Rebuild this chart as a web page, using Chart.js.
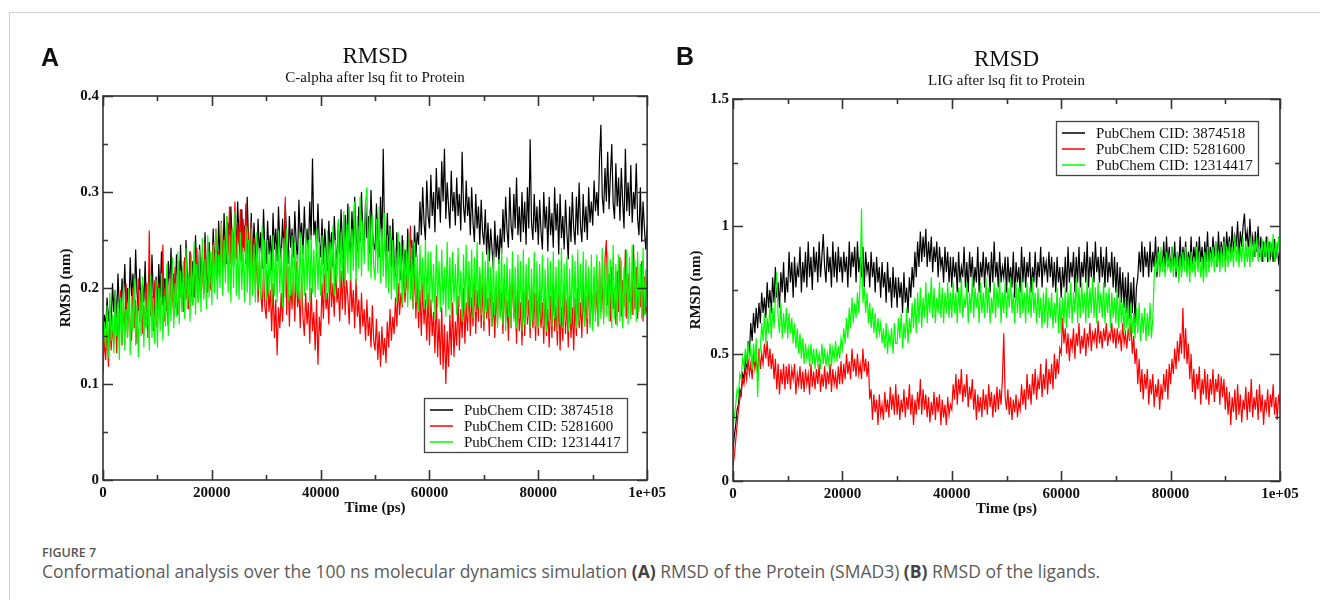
<!DOCTYPE html>
<html>
<head>
<meta charset="utf-8">
<script src="https://cdn.jsdelivr.net/npm/chart.js@4.4.1/dist/chart.umd.min.js"></script>
<style>
  body { margin: 0; width: 1320px; height: 600px; background: #fff; position: relative; overflow: hidden; }
  .frame { position: absolute; left: 9px; top: 12px; width: 1320px; height: 600px; border-left: 1.5px solid #d2d2d2; border-top: 1.5px solid #d2d2d2; }
  .panel { position: absolute; top: 0; }
  .tag { position: absolute; font: bold 25px "Liberation Sans", Arial, sans-serif; color: #111; }
  .fig { position: absolute; left: 42px; top: 544px; font: 600 12.5px "Open Sans", sans-serif; color: #555; }
  .cap { position: absolute; left: 42px; top: 559px; font: 17.5px "Open Sans", sans-serif; color: #5a5a5a; white-space: nowrap; }
  .cap b { font-weight: 700; color: #444; }
</style>
</head>
<body>
<div class="frame"></div>
<canvas id="chartA" class="panel" style="left:0" width="670" height="530"></canvas>
<canvas id="chartB" class="panel" style="left:650px" width="670" height="530"></canvas>
<div class="tag" style="left:41px; top:43px">A</div>
<div class="tag" style="left:676px; top:42px">B</div>
<div class="fig">FIGURE 7</div>
<div class="cap">Conformational analysis over the 100 ns molecular dynamics simulation <b>(A)</b> RMSD of the Protein (SMAD3) <b>(B)</b> RMSD of the ligands.</div>

<script>
// legend names, same for both panels
const seriesNames = ['PubChem CID: 3874518', 'PubChem CID: 5281600', 'PubChem CID: 12314417'];
const seriesColors = ['#000000', '#ff0000', '#00ff00'];

// sampling times (ps), read every 250 ps
const timePs = [
  0, 250, 500, 750, 1000, 1250, 1500, 1750, 2000, 2250, 2500, 2750, 3000, 3250, 3500, 3750, 4000, 4250, 4500, 4750,
  5000, 5250, 5500, 5750, 6000, 6250, 6500, 6750, 7000, 7250, 7500, 7750, 8000, 8250, 8500, 8750, 9000, 9250, 9500, 9750,
  10000, 10250, 10500, 10750, 11000, 11250, 11500, 11750, 12000, 12250, 12500, 12750, 13000, 13250, 13500, 13750, 14000, 14250, 14500, 14750,
  15000, 15250, 15500, 15750, 16000, 16250, 16500, 16750, 17000, 17250, 17500, 17750, 18000, 18250, 18500, 18750, 19000, 19250, 19500, 19750,
  20000, 20250, 20500, 20750, 21000, 21250, 21500, 21750, 22000, 22250, 22500, 22750, 23000, 23250, 23500, 23750, 24000, 24250, 24500, 24750,
  25000, 25250, 25500, 25750, 26000, 26250, 26500, 26750, 27000, 27250, 27500, 27750, 28000, 28250, 28500, 28750, 29000, 29250, 29500, 29750,
  30000, 30250, 30500, 30750, 31000, 31250, 31500, 31750, 32000, 32250, 32500, 32750, 33000, 33250, 33500, 33750, 34000, 34250, 34500, 34750,
  35000, 35250, 35500, 35750, 36000, 36250, 36500, 36750, 37000, 37250, 37500, 37750, 38000, 38250, 38500, 38750, 39000, 39250, 39500, 39750,
  40000, 40250, 40500, 40750, 41000, 41250, 41500, 41750, 42000, 42250, 42500, 42750, 43000, 43250, 43500, 43750, 44000, 44250, 44500, 44750,
  45000, 45250, 45500, 45750, 46000, 46250, 46500, 46750, 47000, 47250, 47500, 47750, 48000, 48250, 48500, 48750, 49000, 49250, 49500, 49750,
  50000, 50250, 50500, 50750, 51000, 51250, 51500, 51750, 52000, 52250, 52500, 52750, 53000, 53250, 53500, 53750, 54000, 54250, 54500, 54750,
  55000, 55250, 55500, 55750, 56000, 56250, 56500, 56750, 57000, 57250, 57500, 57750, 58000, 58250, 58500, 58750, 59000, 59250, 59500, 59750,
  60000, 60250, 60500, 60750, 61000, 61250, 61500, 61750, 62000, 62250, 62500, 62750, 63000, 63250, 63500, 63750, 64000, 64250, 64500, 64750,
  65000, 65250, 65500, 65750, 66000, 66250, 66500, 66750, 67000, 67250, 67500, 67750, 68000, 68250, 68500, 68750, 69000, 69250, 69500, 69750,
  70000, 70250, 70500, 70750, 71000, 71250, 71500, 71750, 72000, 72250, 72500, 72750, 73000, 73250, 73500, 73750, 74000, 74250, 74500, 74750,
  75000, 75250, 75500, 75750, 76000, 76250, 76500, 76750, 77000, 77250, 77500, 77750, 78000, 78250, 78500, 78750, 79000, 79250, 79500, 79750,
  80000, 80250, 80500, 80750, 81000, 81250, 81500, 81750, 82000, 82250, 82500, 82750, 83000, 83250, 83500, 83750, 84000, 84250, 84500, 84750,
  85000, 85250, 85500, 85750, 86000, 86250, 86500, 86750, 87000, 87250, 87500, 87750, 88000, 88250, 88500, 88750, 89000, 89250, 89500, 89750,
  90000, 90250, 90500, 90750, 91000, 91250, 91500, 91750, 92000, 92250, 92500, 92750, 93000, 93250, 93500, 93750, 94000, 94250, 94500, 94750,
  95000, 95250, 95500, 95750, 96000, 96250, 96500, 96750, 97000, 97250, 97500, 97750, 98000, 98250, 98500, 98750, 99000, 99250, 99500, 99750,
  100000
];

// panel A: C-alpha RMSD (nm)
const protBlack = [
  0.150, 0.172, 0.158, 0.190, 0.165, 0.182, 0.160, 0.205, 0.175, 0.198, 0.168, 0.215, 0.180, 0.172, 0.210, 0.185, 0.225, 0.178, 0.200, 0.170,
  0.232, 0.190, 0.215, 0.182, 0.240, 0.195, 0.176, 0.220, 0.168, 0.205, 0.185, 0.228, 0.172, 0.196, 0.218, 0.178, 0.235, 0.190, 0.170, 0.212,
  0.178, 0.225, 0.190, 0.238, 0.182, 0.210, 0.195, 0.176, 0.228, 0.200, 0.242, 0.188, 0.215, 0.180, 0.235, 0.205, 0.192, 0.245, 0.198, 0.222,
  0.185, 0.250, 0.210, 0.195, 0.238, 0.202, 0.228, 0.190, 0.255, 0.212, 0.198, 0.245, 0.205, 0.232, 0.196, 0.258, 0.215, 0.200, 0.248, 0.210,
  0.215, 0.262, 0.225, 0.248, 0.208, 0.270, 0.232, 0.255, 0.220, 0.278, 0.240, 0.225, 0.268, 0.230, 0.285, 0.245, 0.222, 0.275, 0.238, 0.290,
  0.250, 0.228, 0.282, 0.242, 0.265, 0.225, 0.295, 0.248, 0.232, 0.278, 0.222, 0.268, 0.240, 0.218, 0.272, 0.235, 0.258, 0.220, 0.282, 0.238,
  0.225, 0.270, 0.235, 0.255, 0.218, 0.278, 0.240, 0.262, 0.228, 0.285, 0.245, 0.230, 0.272, 0.238, 0.288, 0.250, 0.225, 0.275, 0.242, 0.262,
  0.232, 0.280, 0.248, 0.228, 0.292, 0.252, 0.268, 0.235, 0.285, 0.245, 0.262, 0.238, 0.290, 0.250, 0.335, 0.255, 0.270, 0.240, 0.288, 0.248,
  0.232, 0.272, 0.225, 0.262, 0.240, 0.218, 0.270, 0.235, 0.258, 0.222, 0.275, 0.242, 0.228, 0.268, 0.236, 0.282, 0.245, 0.230, 0.276, 0.240,
  0.288, 0.250, 0.235, 0.280, 0.244, 0.295, 0.255, 0.238, 0.285, 0.248, 0.300, 0.258, 0.240, 0.290, 0.252, 0.275, 0.236, 0.302, 0.260, 0.245,
  0.240, 0.288, 0.252, 0.232, 0.295, 0.245, 0.345, 0.250, 0.228, 0.278, 0.238, 0.265, 0.222, 0.272, 0.230, 0.212, 0.258, 0.225, 0.248, 0.208,
  0.255, 0.218, 0.240, 0.205, 0.262, 0.228, 0.215, 0.250, 0.210, 0.265, 0.232, 0.258, 0.245, 0.290, 0.255, 0.305, 0.268, 0.250, 0.312, 0.275,
  0.262, 0.318, 0.275, 0.300, 0.258, 0.325, 0.282, 0.305, 0.268, 0.332, 0.290, 0.345, 0.272, 0.310, 0.285, 0.262, 0.322, 0.280, 0.300, 0.265,
  0.315, 0.275, 0.298, 0.260, 0.342, 0.285, 0.268, 0.312, 0.275, 0.295, 0.255, 0.305, 0.268, 0.248, 0.298, 0.262, 0.285, 0.245, 0.292, 0.258,
  0.245, 0.282, 0.235, 0.268, 0.228, 0.262, 0.240, 0.218, 0.270, 0.232, 0.255, 0.225, 0.262, 0.235, 0.282, 0.248, 0.295, 0.260, 0.242, 0.305,
  0.265, 0.250, 0.298, 0.262, 0.315, 0.255, 0.285, 0.248, 0.300, 0.258, 0.290, 0.245, 0.305, 0.262, 0.355, 0.268, 0.250, 0.298, 0.258, 0.285,
  0.245, 0.292, 0.258, 0.240, 0.300, 0.262, 0.285, 0.238, 0.295, 0.255, 0.278, 0.242, 0.305, 0.260, 0.288, 0.235, 0.298, 0.252, 0.275, 0.240,
  0.292, 0.258, 0.230, 0.285, 0.248, 0.300, 0.262, 0.245, 0.295, 0.255, 0.310, 0.265, 0.248, 0.298, 0.258, 0.285, 0.250, 0.305, 0.268, 0.290,
  0.265, 0.312, 0.280, 0.300, 0.275, 0.335, 0.370, 0.295, 0.278, 0.325, 0.290, 0.342, 0.282, 0.318, 0.350, 0.288, 0.272, 0.330, 0.285, 0.315,
  0.270, 0.325, 0.290, 0.262, 0.345, 0.280, 0.310, 0.275, 0.328, 0.268, 0.300, 0.282, 0.330, 0.272, 0.255, 0.305, 0.248, 0.290, 0.262, 0.240,
  0.265
];
const protRed = [
  0.110, 0.148, 0.125, 0.162, 0.118, 0.170, 0.135, 0.158, 0.142, 0.185, 0.132, 0.175, 0.150, 0.198, 0.140, 0.182, 0.155, 0.205, 0.148, 0.190,
  0.160, 0.145, 0.200, 0.158, 0.188, 0.142, 0.210, 0.165, 0.195, 0.152, 0.182, 0.160, 0.205, 0.148, 0.260, 0.170, 0.192, 0.155, 0.208, 0.165,
  0.158, 0.205, 0.170, 0.192, 0.245, 0.165, 0.210, 0.178, 0.160, 0.215, 0.182, 0.198, 0.168, 0.222, 0.185, 0.172, 0.228, 0.190, 0.205, 0.175,
  0.232, 0.188, 0.210, 0.178, 0.238, 0.195, 0.182, 0.225, 0.192, 0.242, 0.185, 0.212, 0.198, 0.235, 0.190, 0.248, 0.205, 0.195, 0.238, 0.200,
  0.205, 0.248, 0.212, 0.262, 0.220, 0.238, 0.215, 0.270, 0.228, 0.252, 0.218, 0.275, 0.235, 0.285, 0.225, 0.262, 0.240, 0.290, 0.230, 0.268,
  0.245, 0.282, 0.228, 0.272, 0.238, 0.288, 0.222, 0.260, 0.215, 0.270, 0.205, 0.252, 0.198, 0.240, 0.185, 0.228, 0.195, 0.175, 0.218, 0.180,
  0.168, 0.215, 0.175, 0.198, 0.155, 0.205, 0.148, 0.188, 0.130, 0.180, 0.158, 0.195, 0.165, 0.210, 0.295, 0.172, 0.222, 0.160, 0.205, 0.178,
  0.215, 0.165, 0.228, 0.180, 0.198, 0.158, 0.210, 0.170, 0.150, 0.195, 0.162, 0.185, 0.142, 0.200, 0.155, 0.175, 0.135, 0.188, 0.120, 0.170,
  0.150, 0.205, 0.168, 0.215, 0.178, 0.195, 0.162, 0.222, 0.180, 0.205, 0.170, 0.225, 0.185, 0.200, 0.165, 0.218, 0.178, 0.230, 0.172, 0.208,
  0.190, 0.162, 0.215, 0.175, 0.198, 0.158, 0.210, 0.170, 0.188, 0.152, 0.195, 0.160, 0.178, 0.145, 0.188, 0.150, 0.170, 0.138, 0.182, 0.145,
  0.135, 0.168, 0.125, 0.155, 0.118, 0.160, 0.130, 0.148, 0.122, 0.165, 0.138, 0.178, 0.145, 0.170, 0.152, 0.190, 0.160, 0.205, 0.172, 0.195,
  0.180, 0.222, 0.185, 0.210, 0.195, 0.235, 0.265, 0.200, 0.178, 0.225, 0.168, 0.212, 0.158, 0.198, 0.150, 0.205, 0.162, 0.188, 0.145, 0.195,
  0.140, 0.188, 0.150, 0.175, 0.132, 0.192, 0.128, 0.168, 0.120, 0.180, 0.115, 0.162, 0.100, 0.155, 0.118, 0.172, 0.130, 0.185, 0.128, 0.165,
  0.140, 0.192, 0.135, 0.178, 0.148, 0.200, 0.142, 0.185, 0.155, 0.205, 0.150, 0.190, 0.160, 0.212, 0.152, 0.198, 0.165, 0.215, 0.158, 0.205,
  0.155, 0.205, 0.168, 0.190, 0.150, 0.212, 0.160, 0.185, 0.148, 0.200, 0.162, 0.215, 0.170, 0.195, 0.152, 0.210, 0.165, 0.188, 0.145, 0.205,
  0.158, 0.220, 0.168, 0.192, 0.142, 0.200, 0.155, 0.185, 0.140, 0.198, 0.150, 0.210, 0.162, 0.188, 0.148, 0.205, 0.158, 0.195, 0.145, 0.200,
  0.150, 0.198, 0.158, 0.185, 0.142, 0.195, 0.150, 0.178, 0.138, 0.192, 0.148, 0.205, 0.155, 0.182, 0.140, 0.195, 0.135, 0.180, 0.145, 0.198,
  0.152, 0.188, 0.138, 0.192, 0.148, 0.180, 0.135, 0.190, 0.150, 0.200, 0.158, 0.185, 0.148, 0.205, 0.160, 0.192, 0.152, 0.212, 0.162, 0.198,
  0.165, 0.212, 0.172, 0.198, 0.160, 0.225, 0.175, 0.205, 0.168, 0.230, 0.250, 0.182, 0.215, 0.165, 0.222, 0.178, 0.200, 0.162, 0.218, 0.175,
  0.232, 0.170, 0.208, 0.180, 0.240, 0.168, 0.215, 0.185, 0.198, 0.172, 0.245, 0.178, 0.222, 0.168, 0.205, 0.180, 0.228, 0.165, 0.212, 0.175,
  0.180
];
const protGreen = [
  0.120, 0.165, 0.138, 0.182, 0.128, 0.195, 0.145, 0.172, 0.132, 0.198, 0.150, 0.185, 0.125, 0.190, 0.142, 0.205, 0.135, 0.178, 0.148, 0.200,
  0.130, 0.192, 0.155, 0.210, 0.140, 0.182, 0.128, 0.198, 0.150, 0.212, 0.138, 0.188, 0.158, 0.205, 0.135, 0.215, 0.148, 0.190, 0.142, 0.208,
  0.138, 0.200, 0.155, 0.215, 0.145, 0.192, 0.160, 0.225, 0.150, 0.210, 0.165, 0.232, 0.158, 0.205, 0.170, 0.238, 0.162, 0.218, 0.175, 0.228,
  0.168, 0.242, 0.178, 0.215, 0.165, 0.235, 0.182, 0.248, 0.172, 0.225, 0.185, 0.240, 0.175, 0.252, 0.188, 0.230, 0.178, 0.255, 0.190, 0.238,
  0.182, 0.245, 0.195, 0.260, 0.188, 0.235, 0.200, 0.268, 0.192, 0.250, 0.205, 0.275, 0.195, 0.255, 0.185, 0.262, 0.200, 0.280, 0.192, 0.248,
  0.188, 0.258, 0.198, 0.240, 0.185, 0.265, 0.195, 0.250, 0.182, 0.262, 0.192, 0.245, 0.185, 0.258, 0.198, 0.242, 0.188, 0.265, 0.195, 0.250,
  0.188, 0.250, 0.195, 0.238, 0.182, 0.255, 0.192, 0.245, 0.185, 0.260, 0.195, 0.242, 0.180, 0.252, 0.190, 0.262, 0.185, 0.240, 0.192, 0.255,
  0.182, 0.248, 0.195, 0.235, 0.188, 0.258, 0.180, 0.245, 0.192, 0.262, 0.198, 0.250, 0.185, 0.255, 0.195, 0.240, 0.190, 0.262, 0.198, 0.248,
  0.192, 0.255, 0.198, 0.242, 0.188, 0.260, 0.195, 0.248, 0.200, 0.265, 0.192, 0.250, 0.205, 0.272, 0.198, 0.258, 0.210, 0.280, 0.202, 0.268,
  0.215, 0.285, 0.208, 0.262, 0.218, 0.290, 0.205, 0.275, 0.220, 0.295, 0.212, 0.270, 0.225, 0.288, 0.305, 0.218, 0.282, 0.210, 0.275, 0.222,
  0.208, 0.272, 0.215, 0.285, 0.205, 0.262, 0.212, 0.278, 0.200, 0.255, 0.195, 0.262, 0.188, 0.250, 0.198, 0.240, 0.185, 0.258, 0.192, 0.245,
  0.182, 0.250, 0.195, 0.238, 0.180, 0.255, 0.188, 0.242, 0.178, 0.248, 0.185, 0.235, 0.175, 0.245, 0.188, 0.232, 0.178, 0.250, 0.182, 0.238,
  0.172, 0.238, 0.185, 0.225, 0.168, 0.245, 0.180, 0.228, 0.175, 0.240, 0.182, 0.222, 0.170, 0.248, 0.178, 0.232, 0.168, 0.238, 0.185, 0.225,
  0.172, 0.242, 0.180, 0.218, 0.165, 0.235, 0.178, 0.245, 0.170, 0.228, 0.182, 0.240, 0.168, 0.232, 0.175, 0.248, 0.180, 0.222, 0.172, 0.238,
  0.165, 0.228, 0.175, 0.240, 0.168, 0.222, 0.160, 0.235, 0.172, 0.218, 0.158, 0.230, 0.168, 0.242, 0.162, 0.225, 0.155, 0.232, 0.170, 0.220,
  0.160, 0.238, 0.165, 0.222, 0.158, 0.235, 0.168, 0.228, 0.155, 0.240, 0.162, 0.225, 0.170, 0.232, 0.158, 0.220, 0.165, 0.238, 0.160, 0.228,
  0.158, 0.225, 0.168, 0.235, 0.160, 0.220, 0.155, 0.232, 0.165, 0.228, 0.160, 0.238, 0.168, 0.222, 0.155, 0.230, 0.162, 0.242, 0.158, 0.225,
  0.165, 0.232, 0.155, 0.220, 0.162, 0.235, 0.170, 0.228, 0.158, 0.240, 0.165, 0.225, 0.172, 0.238, 0.160, 0.230, 0.168, 0.222, 0.158, 0.235,
  0.155, 0.222, 0.165, 0.235, 0.160, 0.228, 0.168, 0.242, 0.162, 0.225, 0.170, 0.238, 0.165, 0.230, 0.158, 0.245, 0.168, 0.225, 0.160, 0.235,
  0.165, 0.228, 0.158, 0.222, 0.170, 0.240, 0.162, 0.232, 0.168, 0.245, 0.172, 0.230, 0.165, 0.238, 0.175, 0.225, 0.168, 0.242, 0.172, 0.220,
  0.185
];

// panel B: ligand RMSD (nm)
const ligBlack = [
  0.12, 0.18, 0.22, 0.28, 0.30, 0.36, 0.34, 0.42, 0.40, 0.48, 0.45, 0.55, 0.50, 0.62, 0.55, 0.66, 0.58, 0.68, 0.60, 0.70,
  0.62, 0.74, 0.66, 0.72, 0.64, 0.78, 0.68, 0.75, 0.66, 0.80, 0.70, 0.84, 0.72, 0.78, 0.68, 0.82, 0.74, 0.86, 0.70, 0.80,
  0.74, 0.90, 0.78, 0.86, 0.72, 0.88, 0.76, 0.84, 0.80, 0.92, 0.74, 0.86, 0.78, 0.90, 0.76, 0.94, 0.80, 0.88, 0.75, 0.92,
  0.82, 0.90, 0.78, 0.94, 0.80, 0.88, 0.97, 0.84, 0.78, 0.92, 0.82, 0.88, 0.76, 0.94, 0.80, 0.90, 0.78, 0.92, 0.82, 0.88,
  0.78, 0.90, 0.82, 0.88, 0.76, 0.94, 0.80, 0.90, 0.84, 0.92, 0.78, 0.94, 0.82, 0.88, 0.80, 0.92, 0.76, 0.90, 0.82, 0.86,
  0.76, 0.90, 0.80, 0.86, 0.74, 0.88, 0.78, 0.84, 0.72, 0.86, 0.76, 0.82, 0.70, 0.86, 0.74, 0.80, 0.68, 0.84, 0.72, 0.80,
  0.68, 0.80, 0.72, 0.78, 0.66, 0.82, 0.70, 0.76, 0.66, 0.80, 0.72, 0.84, 0.76, 0.90, 0.80, 0.94, 0.84, 0.98, 0.86, 0.96,
  0.88, 0.99, 0.84, 0.94, 0.86, 0.96, 0.82, 0.92, 0.86, 0.94, 0.80, 0.92, 0.84, 0.88, 0.78, 0.92, 0.82, 0.90, 0.78, 0.88,
  0.76, 0.88, 0.80, 0.86, 0.74, 0.90, 0.78, 0.84, 0.80, 0.92, 0.76, 0.86, 0.74, 0.90, 0.80, 0.88, 0.76, 0.84, 0.78, 0.92,
  0.74, 0.86, 0.80, 0.90, 0.76, 0.88, 0.82, 0.86, 0.74, 0.90, 0.78, 0.94, 0.80, 0.86, 0.76, 0.90, 0.78, 0.84, 0.80, 0.88,
  0.74, 0.88, 0.78, 0.84, 0.76, 0.90, 0.72, 0.86, 0.78, 0.84, 0.74, 0.92, 0.78, 0.88, 0.76, 0.86, 0.80, 0.90, 0.74, 0.84,
  0.78, 0.90, 0.76, 0.86, 0.80, 0.92, 0.76, 0.88, 0.82, 0.86, 0.78, 0.90, 0.80, 0.88, 0.76, 0.86, 0.74, 0.88, 0.78, 0.84,
  0.72, 0.84, 0.76, 0.88, 0.74, 0.92, 0.78, 0.86, 0.80, 0.90, 0.74, 0.88, 0.78, 0.92, 0.76, 0.86, 0.80, 0.90, 0.78, 0.94,
  0.76, 0.88, 0.80, 0.90, 0.78, 0.94, 0.82, 0.88, 0.78, 0.92, 0.80, 0.88, 0.76, 0.92, 0.78, 0.86, 0.80, 0.90, 0.76, 0.88,
  0.74, 0.86, 0.72, 0.84, 0.70, 0.82, 0.68, 0.80, 0.66, 0.82, 0.64, 0.78, 0.66, 0.80, 0.62, 0.76, 0.80, 0.90, 0.82, 0.94,
  0.80, 0.92, 0.84, 0.90, 0.80, 0.94, 0.82, 0.90, 0.84, 0.96, 0.80, 0.92, 0.82, 0.90, 0.84, 0.94, 0.82, 0.96, 0.84, 0.92,
  0.82, 0.92, 0.84, 0.94, 0.80, 0.90, 0.84, 0.96, 0.82, 0.92, 0.86, 0.94, 0.82, 0.90, 0.84, 0.96, 0.82, 0.92, 0.86, 0.94,
  0.84, 0.96, 0.86, 0.92, 0.82, 0.94, 0.86, 0.98, 0.84, 0.92, 0.86, 0.96, 0.88, 0.94, 0.84, 0.98, 0.86, 0.94, 0.88, 0.96,
  0.86, 0.98, 0.90, 0.96, 0.88, 1.00, 0.90, 0.96, 0.92, 1.02, 0.88, 0.98, 0.92, 1.00, 1.05, 0.94, 0.98, 0.90, 1.03, 0.92,
  0.96, 0.88, 0.98, 0.90, 1.00, 0.88, 0.96, 0.86, 0.94, 0.88, 0.96, 0.86, 0.94, 0.88, 0.92, 0.86, 0.95, 0.88, 0.92, 0.86,
  0.90
];
const ligRed = [
  0.06, 0.10, 0.16, 0.22, 0.28, 0.32, 0.35, 0.40, 0.38, 0.44, 0.40, 0.48, 0.42, 0.46, 0.40, 0.50, 0.44, 0.48, 0.42, 0.52,
  0.44, 0.50, 0.46, 0.54, 0.48, 0.55, 0.45, 0.52, 0.44, 0.50, 0.40, 0.48, 0.36, 0.46, 0.34, 0.44, 0.38, 0.46, 0.36, 0.45,
  0.38, 0.46, 0.36, 0.44, 0.40, 0.46, 0.34, 0.42, 0.38, 0.45, 0.36, 0.43, 0.35, 0.44, 0.38, 0.42, 0.34, 0.46, 0.37, 0.43,
  0.36, 0.44, 0.38, 0.46, 0.35, 0.42, 0.37, 0.45, 0.36, 0.43, 0.38, 0.46, 0.35, 0.44, 0.38, 0.42, 0.36, 0.45, 0.38, 0.47,
  0.38, 0.46, 0.40, 0.50, 0.42, 0.47, 0.40, 0.52, 0.43, 0.48, 0.41, 0.50, 0.42, 0.46, 0.40, 0.52, 0.43, 0.48, 0.41, 0.47,
  0.32, 0.36, 0.24, 0.34, 0.27, 0.32, 0.22, 0.34, 0.26, 0.30, 0.24, 0.35, 0.27, 0.32, 0.25, 0.37, 0.28, 0.34, 0.26, 0.38,
  0.26, 0.34, 0.24, 0.32, 0.27, 0.36, 0.25, 0.33, 0.28, 0.38, 0.26, 0.34, 0.22, 0.32, 0.26, 0.35, 0.28, 0.40, 0.26, 0.36,
  0.28, 0.34, 0.25, 0.33, 0.23, 0.31, 0.26, 0.35, 0.24, 0.33, 0.27, 0.34, 0.22, 0.32, 0.25, 0.30, 0.22, 0.33, 0.26, 0.30,
  0.28, 0.38, 0.32, 0.42, 0.30, 0.40, 0.34, 0.44, 0.31, 0.38, 0.33, 0.42, 0.29, 0.37, 0.32, 0.40, 0.28, 0.36, 0.24, 0.34,
  0.27, 0.33, 0.25, 0.36, 0.28, 0.34, 0.26, 0.38, 0.29, 0.35, 0.25, 0.34, 0.27, 0.37, 0.28, 0.36, 0.30, 0.40, 0.58, 0.33,
  0.28, 0.36, 0.26, 0.33, 0.24, 0.32, 0.27, 0.34, 0.25, 0.31, 0.28, 0.38, 0.30, 0.36, 0.28, 0.42, 0.32, 0.38, 0.30, 0.42,
  0.34, 0.44, 0.32, 0.40, 0.36, 0.46, 0.33, 0.42, 0.36, 0.48, 0.34, 0.44, 0.38, 0.46, 0.36, 0.50, 0.40, 0.48, 0.42, 0.52,
  0.50, 0.64, 0.54, 0.60, 0.50, 0.58, 0.47, 0.56, 0.52, 0.60, 0.48, 0.58, 0.53, 0.62, 0.50, 0.57, 0.52, 0.60, 0.49, 0.58,
  0.54, 0.62, 0.51, 0.58, 0.55, 0.60, 0.52, 0.63, 0.54, 0.59, 0.52, 0.60, 0.55, 0.62, 0.53, 0.58, 0.56, 0.62, 0.54, 0.60,
  0.52, 0.60, 0.55, 0.58, 0.51, 0.62, 0.54, 0.58, 0.52, 0.60, 0.55, 0.62, 0.50, 0.57, 0.46, 0.52, 0.38, 0.48, 0.35, 0.44,
  0.32, 0.42, 0.36, 0.44, 0.30, 0.40, 0.34, 0.42, 0.29, 0.38, 0.33, 0.40, 0.28, 0.38, 0.32, 0.42, 0.35, 0.44, 0.32, 0.46,
  0.38, 0.48, 0.42, 0.52, 0.44, 0.55, 0.47, 0.58, 0.50, 0.68, 0.48, 0.60, 0.46, 0.54, 0.40, 0.50, 0.35, 0.44, 0.32, 0.42,
  0.36, 0.45, 0.30, 0.40, 0.34, 0.44, 0.32, 0.42, 0.30, 0.40, 0.34, 0.44, 0.31, 0.40, 0.35, 0.42, 0.30, 0.41, 0.33, 0.40,
  0.28, 0.37, 0.26, 0.35, 0.22, 0.33, 0.27, 0.36, 0.24, 0.38, 0.26, 0.34, 0.23, 0.32, 0.28, 0.37, 0.24, 0.35, 0.27, 0.40,
  0.25, 0.33, 0.28, 0.36, 0.24, 0.38, 0.27, 0.34, 0.22, 0.32, 0.28, 0.36, 0.25, 0.34, 0.29, 0.38, 0.26, 0.33, 0.24, 0.34,
  0.30
];
const ligGreen = [
  0.20, 0.26, 0.30, 0.36, 0.34, 0.42, 0.40, 0.48, 0.45, 0.52, 0.46, 0.55, 0.48, 0.52, 0.44, 0.54, 0.47, 0.56, 0.33, 0.48,
  0.52, 0.62, 0.55, 0.66, 0.54, 0.64, 0.58, 0.70, 0.56, 0.68, 0.60, 0.72, 0.82, 0.64, 0.58, 0.70, 0.56, 0.66, 0.58, 0.68,
  0.56, 0.66, 0.58, 0.64, 0.54, 0.62, 0.52, 0.60, 0.50, 0.58, 0.48, 0.56, 0.46, 0.54, 0.48, 0.52, 0.45, 0.54, 0.46, 0.52,
  0.44, 0.52, 0.46, 0.50, 0.44, 0.54, 0.46, 0.52, 0.45, 0.50, 0.46, 0.54, 0.45, 0.52, 0.48, 0.55, 0.47, 0.53, 0.48, 0.56,
  0.52, 0.60, 0.54, 0.64, 0.56, 0.68, 0.60, 0.72, 0.62, 0.70, 0.64, 0.74, 0.66, 0.78, 1.07, 0.70, 0.76, 0.66, 0.74, 0.62,
  0.70, 0.60, 0.68, 0.58, 0.66, 0.56, 0.64, 0.58, 0.62, 0.54, 0.60, 0.52, 0.62, 0.50, 0.58, 0.54, 0.60, 0.50, 0.62, 0.54,
  0.54, 0.64, 0.56, 0.66, 0.52, 0.62, 0.56, 0.68, 0.54, 0.64, 0.58, 0.70, 0.60, 0.72, 0.58, 0.74, 0.62, 0.76, 0.60, 0.72,
  0.64, 0.78, 0.62, 0.74, 0.66, 0.80, 0.64, 0.76, 0.62, 0.72, 0.66, 0.78, 0.64, 0.76, 0.62, 0.74, 0.66, 0.78, 0.64, 0.74,
  0.64, 0.78, 0.66, 0.74, 0.62, 0.76, 0.66, 0.80, 0.64, 0.72, 0.68, 0.78, 0.62, 0.74, 0.66, 0.80, 0.64, 0.76, 0.68, 0.74,
  0.62, 0.78, 0.66, 0.74, 0.64, 0.80, 0.66, 0.76, 0.62, 0.72, 0.66, 0.78, 0.64, 0.76, 0.68, 0.80, 0.62, 0.74, 0.66, 0.78,
  0.64, 0.76, 0.68, 0.80, 0.66, 0.74, 0.62, 0.78, 0.66, 0.76, 0.64, 0.80, 0.66, 0.74, 0.62, 0.78, 0.66, 0.76, 0.64, 0.80,
  0.66, 0.74, 0.62, 0.76, 0.64, 0.72, 0.60, 0.74, 0.62, 0.76, 0.60, 0.72, 0.64, 0.74, 0.60, 0.70, 0.62, 0.76, 0.58, 0.72,
  0.58, 0.72, 0.62, 0.76, 0.60, 0.74, 0.64, 0.78, 0.62, 0.74, 0.66, 0.80, 0.62, 0.76, 0.64, 0.78, 0.66, 0.74, 0.62, 0.80,
  0.64, 0.76, 0.66, 0.80, 0.64, 0.76, 0.62, 0.78, 0.66, 0.74, 0.64, 0.78, 0.62, 0.74, 0.66, 0.76, 0.60, 0.74, 0.64, 0.72,
  0.62, 0.76, 0.60, 0.72, 0.62, 0.70, 0.58, 0.72, 0.60, 0.68, 0.56, 0.70, 0.58, 0.66, 0.56, 0.68, 0.58, 0.70, 0.55, 0.66,
  0.58, 0.68, 0.55, 0.66, 0.57, 0.70, 0.56, 0.64, 0.80, 0.88, 0.82, 0.90, 0.80, 0.92, 0.82, 0.88, 0.80, 0.90, 0.84, 0.88,
  0.82, 0.92, 0.80, 0.88, 0.82, 0.90, 0.78, 0.88, 0.80, 0.90, 0.82, 0.92, 0.80, 0.88, 0.78, 0.90, 0.82, 0.88, 0.80, 0.92,
  0.82, 0.90, 0.80, 0.88, 0.78, 0.90, 0.80, 0.92, 0.82, 0.90, 0.84, 0.92, 0.82, 0.94, 0.84, 0.90, 0.82, 0.92, 0.84, 0.94,
  0.82, 0.92, 0.84, 0.94, 0.86, 0.92, 0.84, 0.96, 0.86, 0.94, 0.84, 0.92, 0.86, 0.96, 0.84, 0.94, 0.86, 0.92, 0.84, 0.96,
  0.86, 0.94, 0.88, 0.96, 0.86, 0.92, 0.88, 0.95, 0.86, 0.94, 0.88, 0.96, 0.86, 0.94, 0.88, 0.97, 0.86, 0.94, 0.88, 0.96,
  0.90
];

const SERIF = '"Liberation Serif", "Times New Roman", serif';

// xmgrace look: box frame, inward ticks on all sides, titles and legend box
const graceFrame = {
  id: 'graceFrame',
  afterDatasetsDraw(chart, args, opts) {
    const { ctx, chartArea: a, scales: { x, y } } = chart;
    ctx.save();
    ctx.strokeStyle = '#333';
    ctx.lineWidth = 1.6;
    ctx.strokeRect(a.left, a.top, a.right - a.left, a.bottom - a.top);
    ctx.beginPath();
    x.ticks.forEach(t => {
      const px = Math.round(x.getPixelForValue(t.value)) + 0.5;
      const len = t.label ? 10 : 5;
      ctx.moveTo(px, a.bottom); ctx.lineTo(px, a.bottom - len);
      ctx.moveTo(px, a.top); ctx.lineTo(px, a.top + len);
    });
    y.ticks.forEach(t => {
      const py = Math.round(y.getPixelForValue(t.value)) + 0.5;
      const len = t.label ? 10 : 5;
      ctx.moveTo(a.left, py); ctx.lineTo(a.left + len, py);
      ctx.moveTo(a.right, py); ctx.lineTo(a.right - len, py);
    });
    ctx.stroke();

    // titles
    const cx = (a.left + a.right) / 2;
    ctx.fillStyle = '#111';
    ctx.textAlign = 'center';
    ctx.textBaseline = 'alphabetic';
    ctx.font = '23px ' + SERIF;
    ctx.fillText(opts.title, cx, a.top - 33);
    ctx.font = '15px ' + SERIF;
    ctx.fillText(opts.subtitle, cx, a.top - 14);

    // legend box
    const lg = opts.legend;
    ctx.fillStyle = '#fff';
    ctx.fillRect(lg.x, lg.y, lg.w, lg.h);
    ctx.strokeStyle = '#444';
    ctx.lineWidth = 1.3;
    ctx.strokeRect(lg.x + 0.5, lg.y + 0.5, lg.w, lg.h);
    ctx.textAlign = 'left';
    ctx.textBaseline = 'middle';
    ctx.font = '15px ' + SERIF;
    chart.data.datasets.forEach((ds, i) => {
      const ry = lg.y + 12 + i * 16;
      ctx.strokeStyle = ds.borderColor;
      ctx.lineWidth = 1.5;
      ctx.beginPath();
      ctx.moveTo(lg.x + 6, ry); ctx.lineTo(lg.x + 29, ry);
      ctx.stroke();
      ctx.fillStyle = '#111';
      ctx.fillText(ds.label, lg.x + 40, ry + 1);
    });
    ctx.restore();
  }
};

function makeChart(id, series, yMax, yStep, yMajor, pad, frame) {
  const datasets = series.map((vals, i) => ({
    label: seriesNames[i],
    data: timePs.map((t, k) => ({ x: t, y: vals[k] })),
    borderColor: seriesColors[i],
    borderWidth: 1.2,
    pointRadius: 0,
    tension: 0,
    order: 3 - i // green drawn on top, like xmgrace
  }));
  const tickFont = { family: SERIF, size: 15, weight: 'bold' };

  return new Chart(document.getElementById(id), {
    type: 'line',
    data: { datasets: datasets },
    options: {
      responsive: false,
      animation: false,
      events: [],
      layout: { padding: pad },
      plugins: { legend: { display: false }, tooltip: { enabled: false }, graceFrame: frame },
      scales: {
        x: {
          type: 'linear',
          min: 0, max: 100000,
          grid: { display: false, drawTicks: false },
          border: { display: false },
          afterFit: s => { s.height = 40; },
          ticks: {
            stepSize: 10000,
            autoSkip: false,
            maxRotation: 0,
            padding: 4,
            color: '#111',
            font: tickFont,
            callback: v => v % 20000 === 0 ? (v === 100000 ? '1e+05' : String(v)) : ''
          },
          title: { display: true, text: 'Time (ps)', color: '#111', font: tickFont, padding: { top: 0, bottom: 3 } }
        },
        y: {
          min: 0, max: yMax,
          grid: { display: false, drawTicks: false },
          border: { display: false },
          afterFit: s => { s.width = 63; },
          ticks: {
            stepSize: yStep,
            autoSkip: false,
            padding: 4,
            color: '#111',
            font: tickFont,
            callback: v => {
              const m = v / yMajor;
              return Math.abs(m - Math.round(m)) < 1e-6 ? String(+v.toFixed(2)) : '';
            }
          },
          title: { display: true, text: 'RMSD (nm)', color: '#111', font: tickFont, padding: { top: 17.5, bottom: 0 } }
        }
      }
    },
    plugins: [graceFrame]
  });
}

window.onload = function () {
  makeChart('chartA', [protBlack, protRed, protGreen], 0.4, 0.05, 0.1,
    { left: 40, top: 96, right: 21, bottom: 10 },
    { title: 'RMSD', subtitle: 'C-alpha after lsq fit to Protein', legend: { x: 424, y: 398, w: 203, h: 54 } });

  makeChart('chartB', [ligBlack, ligRed, ligGreen], 1.5, 0.25, 0.5,
    { left: 20, top: 99, right: 40, bottom: 9 },
    { title: 'RMSD', subtitle: 'LIG after lsq fit to Protein', legend: { x: 406, y: 121, w: 202, h: 54 } });
};
</script>
</body>
</html>
